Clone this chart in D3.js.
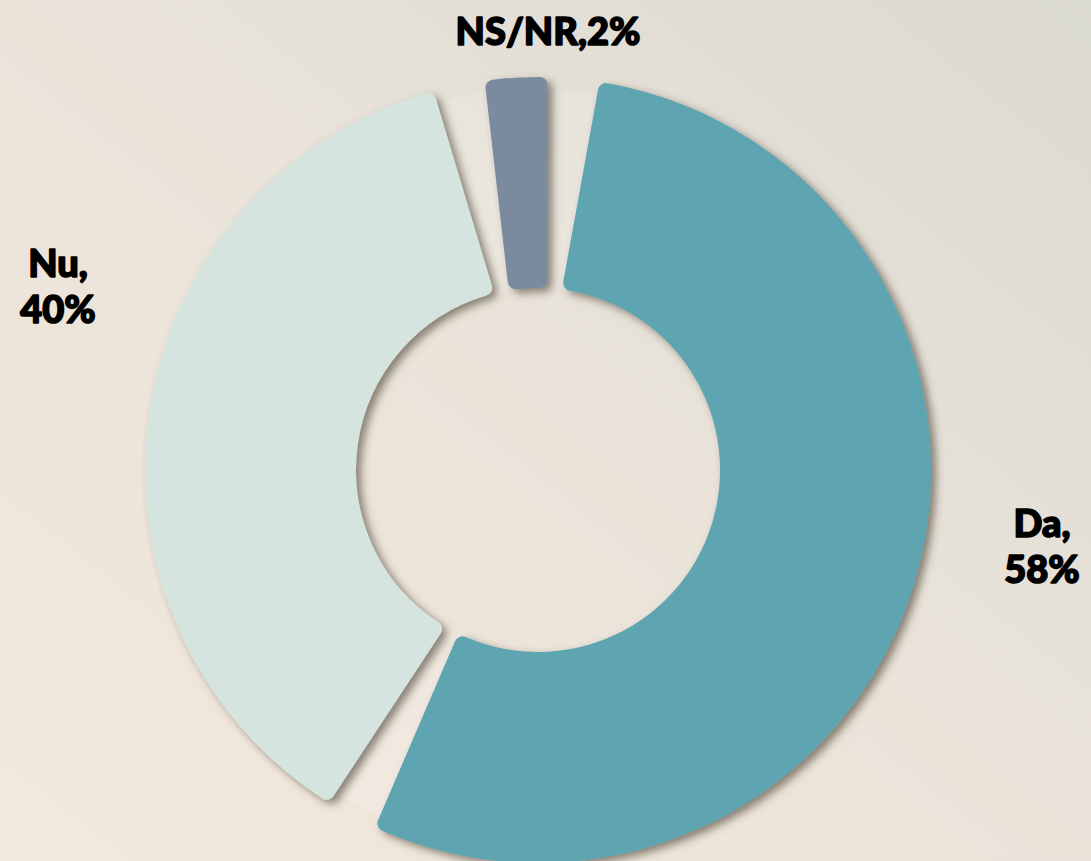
<!DOCTYPE html>
<html>
<head>
<meta charset="utf-8">
<script src="https://cdn.jsdelivr.net/npm/d3@7"></script>
<style>
  html, body { margin: 0; padding: 0; overflow: hidden; }
  figure { margin: 0; }
  svg { display: block; }
</style>
</head>
<body>
<figure id="donut"></figure>
<script>
// data
const categories = ["Da", "Nu", "NS/NR"];
const values = [58, 40, 2];
const labelLines = [["Da,", "58%"], ["Nu,", "40%"], ["NS/NR,2%"]];
const colors = ["#5ea4b1", "#d5e4de", "#7b8aa0"];

class Donut {
  constructor() {
    this.width = 1091;
    this.height = 861;
    this.cx = 538;
    this.cy = 470;
    this.outerR = 393;
    this.innerR = 182;
    this.corner = 8;
    this.startAngle = 5.2 * Math.PI / 180;
    this.minAngle = 16.8 * Math.PI / 180;   // small slices never get thinner than this
    this.gapSlope = 0.177;                  // gaps open up towards the rim
    this.gapApex = 98;
    this.fontSize = 38;
    this.lineHeight = 46;
    // where each label's first baseline sits
    this.labelPos = {
      "Da": [1042, 537],
      "Nu": [58, 277],
      "NS/NR": [548, 45]
    };
  }

  init() {
    this.svg = d3.select("figure#donut").append("svg")
      .attr("width", this.width)
      .attr("height", this.height)
      .attr("viewBox", `0 0 ${this.width} ${this.height}`);

    const defs = this.svg.append("defs");
    const grad = defs.append("linearGradient")
      .attr("id", "bg")
      .attr("x1", "100%").attr("y1", "0%")
      .attr("x2", "0%").attr("y2", "100%");
    grad.append("stop").attr("offset", "0%").attr("stop-color", "#dad9d2");
    grad.append("stop").attr("offset", "45%").attr("stop-color", "#e9e3d9");
    grad.append("stop").attr("offset", "100%").attr("stop-color", "#f3e8dc");

    const f = defs.append("filter")
      .attr("id", "shadow")
      .attr("x", "-20%").attr("y", "-20%")
      .attr("width", "140%").attr("height", "140%");
    f.append("feDropShadow")
      .attr("dx", 5).attr("dy", 4)
      .attr("stdDeviation", 4)
      .attr("flood-color", "#443a2e")
      .attr("flood-opacity", 0.6);
  }

  // spread the angle, keeping tiny slices visible
  weights() {
    const total = d3.sum(values);
    const minShare = this.minAngle / (2 * Math.PI);
    const isSmall = values.map(v => v / total < minShare);
    const smallCount = isSmall.filter(Boolean).length;
    const bigTotal = d3.sum(values.filter((v, i) => !isSmall[i]));
    return values.map((v, i) => isSmall[i] ? minShare : v / bigTotal * (1 - smallCount * minShare));
  }

  slicePath(d) {
    const ro = this.outerR - this.corner;
    const ri = this.innerR + this.corner;
    const offO = (this.gapSlope / 2 * (ro - this.gapApex) + this.corner) / ro;
    const offI = (this.gapSlope / 2 * (ri - this.gapApex) + this.corner) / ri;
    const a0o = d.startAngle + offO, a1o = d.endAngle - offO;
    const a0i = d.startAngle + offI, a1i = d.endAngle - offI;
    const p = d3.path();
    p.arc(0, 0, ro, a0o - Math.PI / 2, a1o - Math.PI / 2);
    p.lineTo(ri * Math.sin(a1i), -ri * Math.cos(a1i));
    p.arc(0, 0, ri, a1i - Math.PI / 2, a0i - Math.PI / 2, true);
    p.closePath();
    return p.toString();
  }

  draw() {
    this.svg.append("rect")
      .attr("width", this.width)
      .attr("height", this.height)
      .attr("fill", "url(#bg)");

    const g = this.svg.append("g")
      .attr("transform", "translate(" + this.cx + "," + this.cy + ")");

    // pale ring behind the slices
    const ring = d3.arc()
      .innerRadius(this.innerR)
      .outerRadius(this.outerR - 12)
      .startAngle(0)
      .endAngle(2 * Math.PI);
    g.append("path")
      .attr("d", ring())
      .attr("fill", "#ffffff")
      .attr("fill-opacity", 0.14);

    const w = this.weights();
    const pie = d3.pie()
      .sort(null)
      .value((d, i) => w[i])
      .startAngle(this.startAngle)
      .endAngle(this.startAngle + 2 * Math.PI);

    g.append("g")
      .attr("filter", "url(#shadow)")
      .selectAll("path")
      .data(pie(categories))
      .enter()
      .append("path")
      .attr("d", d => this.slicePath(d))
      .attr("fill", (d, i) => colors[i])
      .attr("stroke", (d, i) => colors[i])
      .attr("stroke-width", this.corner * 2)
      .attr("stroke-linejoin", "round");

    categories.forEach((c, i) => {
      const [x, y] = this.labelPos[c];
      const t = this.svg.append("text")
        .attr("x", x)
        .attr("y", y)
        .attr("text-anchor", "middle")
        .attr("fill", "#000")
        .attr("stroke", "#000")
        .attr("stroke-width", 1.6)
        .attr("stroke-linejoin", "round")
        .style("font-family", "Lato, 'DejaVu Sans', sans-serif")
        .style("font-weight", "900")
        .style("font-size", this.fontSize + "px");
      labelLines[i].forEach((line, k) => {
        t.append("tspan")
          .attr("x", x)
          .attr("y", y + k * this.lineHeight)
          .text(line);
      });
    });
  }
}

const donut = new Donut();
donut.init();
donut.draw();
</script>
</body>
</html>
